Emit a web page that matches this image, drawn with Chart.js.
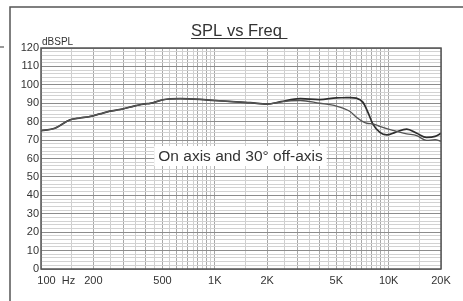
<!DOCTYPE html>
<html>
<head>
<meta charset="utf-8">
<script src="https://cdn.jsdelivr.net/npm/chart.js@4.4.0/dist/chart.umd.min.js"></script>
<style>
  html, body { margin: 0; padding: 0; background: #fff; }
  #wrap { width: 463px; height: 301px; }
</style>
</head>
<body>
<div id="wrap"><canvas id="splChart" width="463" height="301"></canvas></div>
<script>
// Frequencies (Hz)
const freqs = [100, 120, 147, 168, 191, 218, 249, 285, 347, 397, 424, 503, 632, 822, 1000, 1400, 1600, 2000,
  2400, 3100, 4000, 5000, 5500, 6000, 6500, 7100, 7600, 8100, 8900, 9750, 10900, 12700, 14500, 16500, 18500, 20000];

// On axis response (dB SPL)
const onAxis = [75.1, 76.4, 81, 82, 82.8, 84.2, 85.7, 86.6, 88.6, 89.7, 89.9, 91.9, 92.5, 92.1, 91.5, 90.6, 90.3, 89.5,
  90.9, 92.5, 92.0, 92.9, 93.0, 93.1, 92.8, 90.6, 85.1, 78.8, 74.2, 72.8, 74.2, 76.0, 73.7, 71.5, 72.0, 73.7];

// 30 degree off axis response (dB SPL)
const offAxis = [75.1, 76.4, 81, 82, 82.8, 84.2, 85.7, 86.6, 88.6, 89.7, 89.9, 91.9, 92.5, 92.1, 91.5, 90.6, 90.3, 89.5,
  90.8, 91.5, 90.0, 88.5, 87.2, 85.5, 82.5, 80.0, 79.0, 78.8, 77.4, 76.2, 75.0, 73.4, 72.4, 69.8, 70.2, 69.3];

// vertical grid lines and the ones that get a label
const gridFreqs = [100, 150, 200, 250, 300, 350, 400, 450, 500, 550, 600, 650, 700, 750, 800, 850, 900, 950,
  1000, 1500, 2000, 2500, 3000, 3500, 4000, 4500, 5000, 5500, 6000, 6500, 7000, 7500, 8000, 8500, 9000, 9500,
  10000, 15000, 20000];
const freqLabels = { 100: '          100  Hz', 200: '200', 500: '500', 1000: '1K', 2000: '2K', 5000: '5K', 10000: '10K', 20000: '20K' };

const title = 'SPL vs Freq';
const note = 'On axis and 30\u00b0 off-axis';

function toPoints(ys) {
  return freqs.map((f, i) => ({ x: f, y: ys[i] }));
}

// Frame, title, unit and note drawn around the plot
const decorPlugin = {
  id: 'decor',
  beforeDraw(chart) {
    const c = chart.ctx;
    c.save();
    c.fillStyle = '#fff';
    c.fillRect(0, 0, chart.width, chart.height);
    c.strokeStyle = '#555';
    c.lineWidth = 1.5;
    c.beginPath();
    c.moveTo(10, 301);
    c.lineTo(10, 7);
    c.lineTo(463, 7);
    c.stroke();
    c.strokeStyle = '#999';
    c.lineWidth = 2;
    c.beginPath();
    c.moveTo(0, 47);
    c.lineTo(4, 47);
    c.stroke();
    c.restore();
  },
  afterDatasetsDraw(chart) {
    const c = chart.ctx;
    const a = chart.chartArea;
    c.save();
    // plot frame
    c.strokeStyle = '#555';
    c.lineWidth = 1.5;
    c.strokeRect(a.left, a.top, a.right - a.left, a.bottom - a.top);

    // title with underline
    c.fillStyle = '#333';
    c.font = '16.5px "Liberation Sans", Arial, sans-serif';
    c.textAlign = 'left';
    c.textBaseline = 'alphabetic';
    const tw = c.measureText(title).width;
    const tx = 236.5 - tw / 2;
    c.fillText(title, tx, 36);
    c.strokeStyle = '#333';
    c.lineWidth = 1;
    c.beginPath();
    c.moveTo(tx, 38.5);
    c.lineTo(tx + tw + c.measureText(' ').width + 1, 38.5);
    c.stroke();

    // unit
    c.font = '10px "Liberation Sans", Arial, sans-serif';
    c.fillText('dBSPL', 42, 44.5);

    // note on a white box
    c.font = '15.5px "Liberation Sans", Arial, sans-serif';
    const nw = c.measureText(note).width;
    const nx = (157 + 324) / 2;
    c.fillStyle = '#fff';
    c.fillRect(nx - nw / 2 - 4, 146, nw + 8, 20);
    c.fillStyle = '#333';
    c.textAlign = 'center';
    c.textBaseline = 'middle';
    c.fillText(note, nx, 156.5);
    c.restore();
  }
};

new Chart(document.getElementById('splChart'), {
  type: 'line',
  data: {
    datasets: [
      {
        label: '30\u00b0 off-axis',
        data: toPoints(offAxis),
        borderColor: '#555',
        borderWidth: 1.3,
        pointRadius: 0,
        cubicInterpolationMode: 'monotone'
      },
      {
        label: 'On axis',
        data: toPoints(onAxis),
        borderColor: '#2e2e2e',
        borderWidth: 1.7,
        pointRadius: 0,
        cubicInterpolationMode: 'monotone'
      }
    ]
  },
  options: {
    responsive: false,
    animation: false,
    events: [],
    layout: { padding: { left: 10, top: 48, right: 22, bottom: 0 } },
    plugins: {
      legend: { display: false },
      tooltip: { enabled: false }
    },
    scales: {
      x: {
        type: 'logarithmic',
        min: 100,
        max: 20000,
        afterBuildTicks(scale) {
          scale.ticks = gridFreqs.map(v => ({ value: v }));
        },
        afterFit(scale) { scale.height = 32; },
        border: { display: false },
        grid: {
          drawTicks: false,
          lineWidth: 1,
          color(ctx) {
            const v = ctx.tick ? ctx.tick.value : 0;
            const m = Math.pow(10, Math.floor(Math.log10(v) + 1e-9));
            return Math.abs(v / m - Math.round(v / m)) < 1e-6 ? '#a8a8a8' : '#cfcfcf';
          }
        },
        ticks: {
          autoSkip: false,
          maxRotation: 0,
          minRotation: 0,
          padding: 5,
          color: '#333',
          font: { family: '"Liberation Sans", Arial, sans-serif', size: 11 },
          callback(value) { return freqLabels[value] || ''; }
        }
      },
      y: {
        min: 0,
        max: 120,
        afterFit(scale) { scale.width = 31; },
        border: { display: false },
        grid: {
          drawTicks: false,
          lineWidth: 1,
          color(ctx) {
            const v = ctx.tick ? ctx.tick.value : 0;
            return v % 10 === 0 ? '#8c8c8c' : '#d2d2d2';
          }
        },
        ticks: {
          stepSize: 2,
          autoSkip: false,
          padding: 2,
          color: '#333',
          font: { family: '"Liberation Sans", Arial, sans-serif', size: 11 },
          callback(value) { return value % 10 === 0 ? value : ''; }
        }
      }
    }
  },
  plugins: [decorPlugin]
});
</script>
</body>
</html>
